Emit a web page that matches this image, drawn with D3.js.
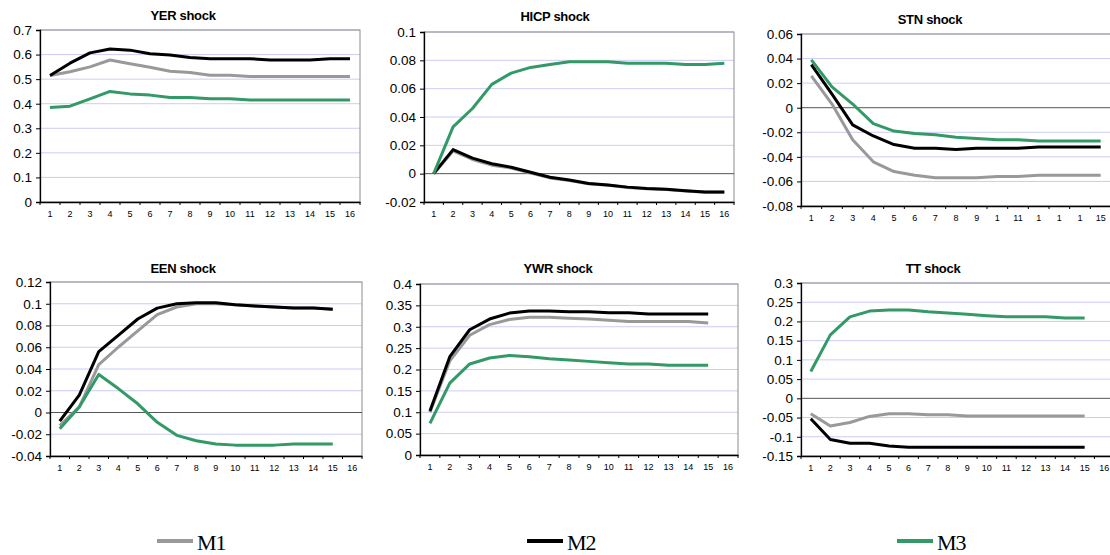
<!DOCTYPE html>
<html>
<head>
<meta charset="utf-8">
<script src="https://cdn.jsdelivr.net/npm/d3@7"></script>
<style>
  body { margin: 0; background: #fff; }
  svg { display: block; font-family: "Liberation Sans", Arial, sans-serif; }
</style>
</head>
<body>
<div id="chart"></div>
<script>
/* Data */
var seriesNames = ["M1", "M2", "M3"];

var labels16 = ["1","2","3","4","5","6","7","8","9","10","11","12","13","14","15","16"];
var labelsStn = ["1","2","3","4","5","6","7","8","9","1","11","1","1","1","15"];

var yerM1 = [0.515,0.530,0.550,0.578,0.563,0.548,0.532,0.527,0.516,0.516,0.511,0.511,0.511,0.511,0.511,0.511];
var yerM2 = [0.515,0.565,0.607,0.623,0.618,0.603,0.598,0.588,0.583,0.583,0.583,0.578,0.578,0.578,0.583,0.583];
var yerM3 = [0.385,0.390,0.420,0.450,0.440,0.435,0.425,0.425,0.420,0.420,0.415,0.415,0.415,0.415,0.415,0.415];
var yerTicks = [0,0.1,0.2,0.3,0.4,0.5,0.6,0.7];

var hicpM1 = [0,0.016,0.010,0.006,0.004,0.0005,-0.003,-0.0048,-0.0072,-0.0082,-0.0097,-0.0106,-0.0112,-0.0122,-0.0131,-0.0132];
var hicpM2 = [0,0.017,0.011,0.007,0.0045,0.001,-0.0025,-0.0045,-0.007,-0.008,-0.0095,-0.0105,-0.011,-0.012,-0.013,-0.013];
var hicpM3 = [0,0.033,0.046,0.063,0.071,0.075,0.077,0.079,0.079,0.079,0.078,0.078,0.078,0.077,0.077,0.078];
var hicpTicks = [-0.02,0,0.02,0.04,0.06,0.08,0.1];

var stnM1 = [0.026,0.003,-0.026,-0.044,-0.052,-0.055,-0.057,-0.057,-0.057,-0.056,-0.056,-0.055,-0.055,-0.055,-0.055];
var stnM2 = [0.035,0.011,-0.014,-0.023,-0.030,-0.033,-0.033,-0.034,-0.033,-0.033,-0.033,-0.032,-0.032,-0.032,-0.032];
var stnM3 = [0.039,0.017,0.003,-0.013,-0.019,-0.021,-0.022,-0.024,-0.025,-0.026,-0.026,-0.027,-0.027,-0.027,-0.027];
var stnTicks = [-0.08,-0.06,-0.04,-0.02,0,0.02,0.04,0.06];

var eenM1 = [-0.012,0.005,0.044,0.060,0.075,0.090,0.097,0.100,0.100,0.099,0.098,0.097,0.096,0.096,0.095];
var eenM2 = [-0.008,0.016,0.056,0.071,0.086,0.096,0.100,0.101,0.101,0.099,0.098,0.097,0.096,0.096,0.095];
var eenM3 = [-0.015,0.005,0.035,0.022,0.008,-0.009,-0.021,-0.026,-0.029,-0.030,-0.030,-0.030,-0.029,-0.029,-0.029];
var eenTicks = [-0.04,-0.02,0,0.02,0.04,0.06,0.08,0.1,0.12];

var ywrM1 = [0.100,0.220,0.280,0.305,0.317,0.322,0.322,0.320,0.318,0.315,0.312,0.312,0.312,0.312,0.309];
var ywrM2 = [0.103,0.230,0.293,0.318,0.332,0.337,0.337,0.335,0.335,0.333,0.333,0.330,0.330,0.330,0.330];
var ywrM3 = [0.074,0.168,0.213,0.227,0.233,0.230,0.225,0.222,0.219,0.216,0.213,0.213,0.210,0.210,0.210];
var ywrTicks = [0,0.05,0.1,0.15,0.2,0.25,0.3,0.35,0.4];

var ttM1 = [-0.040,-0.072,-0.063,-0.047,-0.040,-0.040,-0.043,-0.043,-0.046,-0.046,-0.046,-0.046,-0.046,-0.046,-0.046];
var ttM2 = [-0.053,-0.107,-0.117,-0.117,-0.124,-0.127,-0.127,-0.127,-0.127,-0.127,-0.127,-0.127,-0.127,-0.127,-0.127];
var ttM3 = [0.070,0.165,0.212,0.227,0.230,0.230,0.225,0.222,0.219,0.215,0.212,0.212,0.212,0.209,0.209];
var ttTicks = [-0.15,-0.1,-0.05,0,0.05,0.1,0.15,0.2,0.25,0.3];

var panels = [
  {title: "YER shock",  labels: labels16,  ticks: yerTicks,  series: [yerM1, yerM2, yerM3]},
  {title: "HICP shock", labels: labels16,  ticks: hicpTicks, series: [hicpM1, hicpM2, hicpM3]},
  {title: "STN shock",  labels: labelsStn, ticks: stnTicks,  series: [stnM1, stnM2, stnM3]},
  {title: "EEN shock",  labels: labels16,  ticks: eenTicks,  series: [eenM1, eenM2, eenM3]},
  {title: "YWR shock",  labels: labels16,  ticks: ywrTicks,  series: [ywrM1, ywrM2, ywrM3]},
  {title: "TT shock",   labels: labels16,  ticks: ttTicks,   series: [ttM1, ttM2, ttM3]}
];

/* Layout */
var width = 1110;
var height = 555;
var boxes = [
  {l: 40,  r: 360,  t: 30,  b: 202, tx: 183, ty: 20},
  {l: 424, r: 734,  t: 32,  b: 202, tx: 555, ty: 21},
  {l: 801, r: 1111, t: 34,  b: 206, tx: 930, ty: 24},
  {l: 50,  r: 362,  t: 282, b: 456, tx: 183, ty: 273},
  {l: 420, r: 738,  t: 284, b: 455, tx: 558, ty: 273},
  {l: 801, r: 1114, t: 283, b: 456, tx: 933, ty: 273}
];

var colors = ["#999999", "#000000", "#339966"];
var lineWidth = 3;
var gridColor = "#ccccf5";

var fmt = d => String(+d.toFixed(4));

var svg = d3.select("#chart").append("svg")
  .attr("width", width)
  .attr("height", height);

panels.forEach(function(p, i) {
  var box = boxes[i];
  var g = svg.append("g");

  var x = d3.scaleBand()
    .domain(d3.range(p.labels.length))
    .range([box.l, box.r])
    .padding(0);

  var y = d3.scaleLinear()
    .domain(d3.extent(p.ticks))
    .range([box.b, box.t]);

  /* gridlines */
  g.append("g")
    .selectAll("line")
    .data(p.ticks.filter(t => t !== 0 && t !== p.ticks[0])).enter()
    .append("line")
    .attr("x1", box.l).attr("x2", box.r)
    .attr("y1", d => y(d)).attr("y2", d => y(d))
    .attr("stroke", gridColor)
    .attr("stroke-width", 1);

  /* plot area border */
  g.append("rect")
    .attr("x", box.l).attr("y", box.t)
    .attr("width", box.r - box.l).attr("height", box.b - box.t)
    .attr("fill", "none")
    .attr("stroke", "#8c8c8c")
    .attr("stroke-width", 1);

  /* zero line */
  if (p.ticks[0] < 0) {
    g.append("line")
      .attr("x1", box.l).attr("x2", box.r)
      .attr("y1", y(0)).attr("y2", y(0))
      .attr("stroke", "#555")
      .attr("stroke-width", 1);
  }

  /* lines */
  var line = d3.line()
    .x((d, j) => x(j) + x.bandwidth() / 2)
    .y(d => y(d));

  g.append("g")
    .selectAll("path")
    .data(p.series).enter()
    .append("path")
    .attr("d", d => line(d))
    .attr("fill", "none")
    .attr("stroke", (d, k) => colors[k])
    .attr("stroke-width", lineWidth)
    .attr("stroke-linejoin", "round");

  /* y axis */
  var yAxis = d3.axisLeft(y)
    .tickValues(p.ticks)
    .tickSize(4)
    .tickPadding(4)
    .tickFormat(fmt);

  var ya = g.append("g")
    .attr("transform", `translate(${box.l},0)`)
    .call(yAxis);
  ya.select(".domain").attr("stroke", "#000").attr("stroke-width", 1.3);
  ya.selectAll("text").attr("font-size", "13.5px").attr("fill", "#000")
    .attr("font-family", "'Liberation Sans', Arial, sans-serif");

  /* x axis */
  var xAxis = d3.axisBottom(x)
    .tickSize(0)
    .tickPadding(9)
    .tickFormat(j => p.labels[j]);

  var xa = g.append("g")
    .attr("transform", `translate(0,${box.b})`)
    .call(xAxis);
  xa.select(".domain").attr("stroke", "#000").attr("stroke-width", 1.3);
  xa.selectAll("text").attr("font-size", "9px").attr("fill", "#000")
    .attr("font-family", "'Liberation Sans', Arial, sans-serif");

  /* category boundary ticks */
  g.append("g")
    .selectAll("line")
    .data(d3.range(p.labels.length + 1)).enter()
    .append("line")
    .attr("x1", j => box.l + j * x.step()).attr("x2", j => box.l + j * x.step())
    .attr("y1", box.b).attr("y2", box.b + 3)
    .attr("stroke", "#000");

  /* title */
  g.append("text")
    .attr("x", box.tx).attr("y", box.ty)
    .attr("text-anchor", "middle")
    .attr("font-size", "13px")
    .attr("font-weight", "bold")
    .attr("letter-spacing", "-0.3px")
    .text(p.title);
});

/* Legend */
var legendX = [157, 527, 897];
var legend = svg.append("g")
  .selectAll("g")
  .data(seriesNames).enter()
  .append("g")
  .attr("transform", (d, i) => `translate(${legendX[i]},541)`);

legend.append("line")
  .attr("x1", 0).attr("x2", 36)
  .attr("stroke", (d, i) => colors[i])
  .attr("stroke-width", 4);

legend.append("text")
  .attr("x", 40).attr("y", 9)
  .attr("font-family", "'Liberation Serif', 'Times New Roman', serif")
  .attr("font-size", "22px")
  .attr("letter-spacing", "-1px")
  .text(d => d);
</script>
</body>
</html>
